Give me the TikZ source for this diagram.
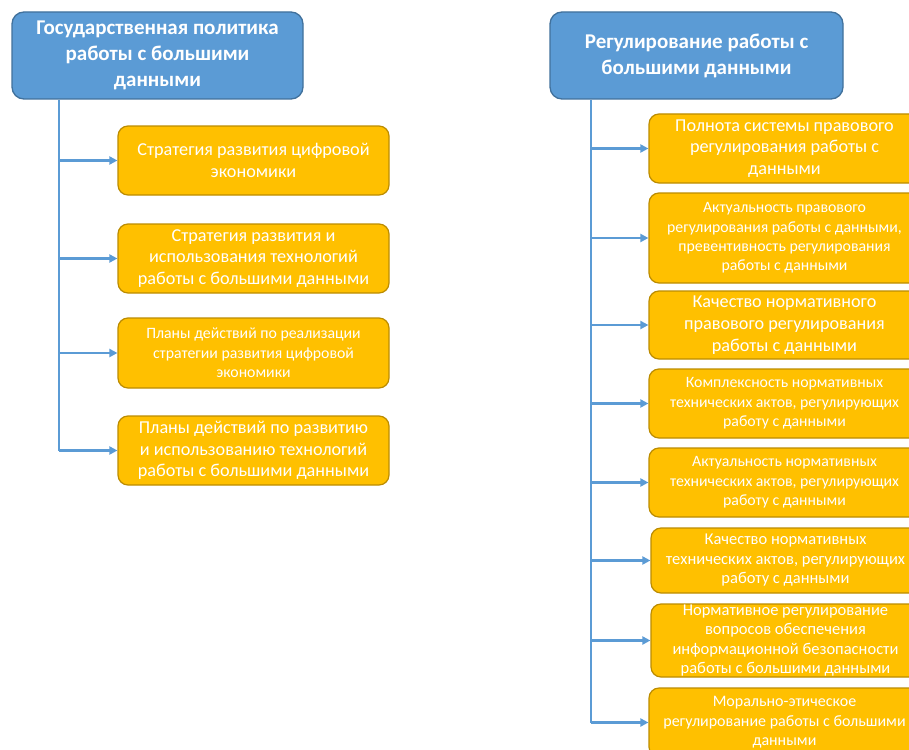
\documentclass[tikz,border=0pt]{standalone}
\usepackage{fontspec}
\setmainfont{Carlito}
\usetikzlibrary{arrows.meta}
\definecolor{hblue}{HTML}{5B9BD5}
\definecolor{hblueb}{HTML}{41719C}
\definecolor{byel}{HTML}{FFC000}
\definecolor{byelb}{HTML}{BC8C00}
\tikzset{
  head/.style={draw=hblueb, fill=hblue, line width=1.3pt, rounded corners=12pt,
    text=white, font=\fontsize{21}{26}\selectfont\bfseries, align=center,
    minimum height=87pt, inner sep=0pt},
  item/.style={draw=byelb, fill=byel, line width=1.2pt, rounded corners=10pt,
    text=white, align=center, minimum width=271pt, inner sep=0pt},
  big/.style={font=\fontsize{18.2}{21.7}\selectfont},
  small/.style={font=\fontsize{15.8}{19.3}\selectfont},
  mid/.style={font=\fontsize{16.5}{19.5}\selectfont},
  conn/.style={draw=hblue, line width=2.4pt},
  arr/.style={conn, -{Triangle[length=8pt,width=8pt]}}
}
\begin{document}
\begin{tikzpicture}[x=1pt,y=-1pt]
\path[use as bounding box, clip] (0,0) rectangle (909,749);
\fill[white] (0,0) rectangle (909,749);

% left column
\node[head, minimum width=291pt] (lh) at (157.5,55.5) {Государственная политика\\работы с большими\\данными};
\node[item, big, minimum height=69pt] (l1) at (253.5,160.5) {Стратегия развития цифровой\\экономики};
\node[item, big, minimum height=69pt] (l2) at (253.5,258.5) {Стратегия развития и\\использования технологий\\работы с большими данными};
\node[item, small, minimum height=70pt] (l3) at (253.5,353) {Планы действий по реализации\\стратегии развития цифровой\\экономики};
\node[item, big, minimum height=69pt] (l4) at (253.5,450.5) {Планы действий по развитию\\и использованию технологий\\работы с большими данными};

\coordinate (lt) at (59,0);
\draw[conn] (lt |- lh.south) -- (lt |- l4.west);
\foreach \b in {l1,l2,l3,l4} \draw[arr] (lt |- \b.west) -- (\b.west);

% right column
\node[head, minimum width=293pt] (rh) at (696.5,55.5) {Регулирование работы с\\большими данными};
\node[item, big, minimum height=69pt] (r1) at (784.5,148.5) {Полнота системы правового\\регулирования работы с\\данными};
\node[item, small, minimum height=90pt] (r2) at (784.5,238) {Актуальность правового\\регулирования работы с данными,\\превентивность регулирования\\работы с данными};
\node[item, big, minimum height=68pt] (r3) at (784.5,325) {Качество нормативного\\правового регулирования\\работы с данными};
\node[item, small, minimum height=69pt] (r4) at (784.5,403.5) {Комплексность нормативных\\технических актов, регулирующих\\работу с данными};
\node[item, small, minimum height=69pt] (r5) at (784.5,482.5) {Актуальность нормативных\\технических актов, регулирующих\\работу с данными};
\node[item, mid, minimum height=65pt, minimum width=269pt] (r6) at (785.5,560.5) {Качество нормативных\\технических актов, регулирующих\\работу с данными};
\node[item, mid, minimum height=73pt, minimum width=269pt] (r7) at (785.5,640.5) {Нормативное регулирование\\вопросов обеспечения\\информационной безопасности\\работы с большими данными};
\node[item, font=\fontsize{16}{19.5}\selectfont, minimum height=69pt] (r8) at (784.5,722.5) {Морально-этическое\\регулирование работы с большими\\данными};

\coordinate (rt) at (591,0);
\draw[conn] (rt |- rh.south) -- (rt |- r8.west);
\foreach \b in {r1,r2,r3,r4,r5,r6,r7,r8} \draw[arr] (rt |- \b.west) -- (\b.west);
\end{tikzpicture}
\end{document}
